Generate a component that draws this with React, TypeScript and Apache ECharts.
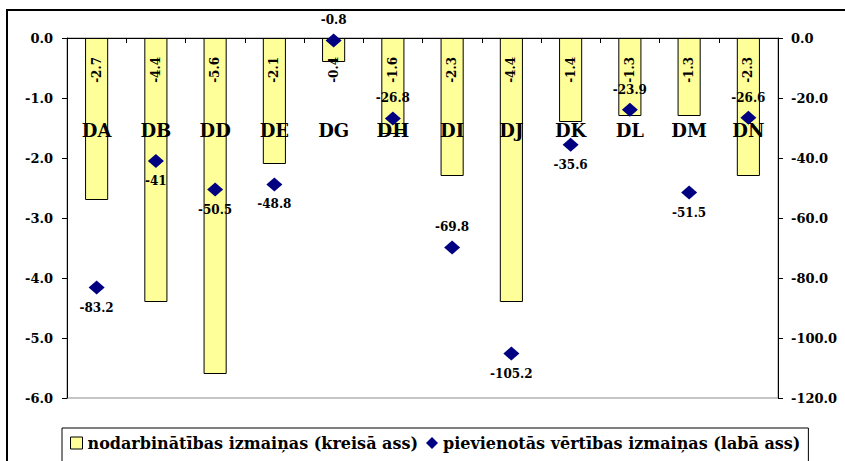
import React, { useEffect, useRef } from "react";
import * as echarts from "echarts";

const categories = ["DA", "DB", "DD", "DE", "DG", "DH", "DI", "DJ", "DK", "DL", "DM", "DN"];
const employmentChange = [-2.7, -4.4, -5.6, -2.1, -0.4, -1.6, -2.3, -4.4, -1.4, -1.3, -1.3, -2.3];
const valueAddedChange = [-83.2, -41, -50.5, -48.8, -0.8, -26.8, -69.8, -105.2, -35.6, -23.9, -51.5, -26.6];
const valueLabelSide = ["bottom", "bottom", "bottom", "bottom", "top", "top", "top", "bottom", "bottom", "top", "bottom", "top"];
const seriesNames = ["nodarbinātības izmaiņas (kreisā ass)", "pievienotās vērtības izmaiņas (labā ass)"];

const FONT = "DejaVu Serif";

export default function App() {
  const ref = useRef<HTMLDivElement>(null);
  useEffect(() => {
    if (!ref.current) return;
    const chart = echarts.init(ref.current, undefined, { renderer: "svg" });
    chart.setOption({
      animation: false,
      backgroundColor: "#fff",
      textStyle: { fontFamily: FONT },
      grid: {
        left: 67,
        right: 67,
        top: 38,
        bottom: 63,
        show: true,
        borderColor: "#8c8c8c",
        borderWidth: 1,
      },
      graphic: [
        {
          type: "rect",
          shape: { x: 7, y: 10, width: 900, height: 520 },
          style: { fill: "none", stroke: "#000", lineWidth: 2 },
          silent: true,
          z: -1,
        },
      ],
      legend: {
        left: 62,
        top: 428,
        padding: [7, 8, 24, 8],
        borderColor: "#000",
        borderWidth: 1,
        itemWidth: 12,
        itemHeight: 12,
        itemGap: 8,
        textStyle: { fontFamily: FONT, fontWeight: "bold", fontSize: 16, color: "#000" },
        data: [
          { name: seriesNames[0], icon: "rect", itemStyle: { color: "#FFFF99", borderColor: "#000", borderWidth: 1 } },
          { name: seriesNames[1], icon: "diamond", itemStyle: { color: "#000080" } },
        ],
      },
      xAxis: {
        type: "category",
        position: "top",
        data: categories,
        z: 5,
        axisLine: { show: true, lineStyle: { color: "#000", width: 1 } },
        axisTick: { show: true, inside: true, length: 5, lineStyle: { color: "#000" } },
        axisLabel: {
          margin: -101,
          fontFamily: FONT,
          fontWeight: "bold",
          fontSize: 18,
          color: "#000",
        },
        splitLine: { show: false },
      },
      yAxis: [
        {
          type: "value",
          min: -6,
          max: 0,
          interval: 1,
          position: "left",
          axisLine: { show: true, lineStyle: { color: "#000", width: 1 } },
          axisTick: { show: true, length: 5, lineStyle: { color: "#000" } },
          axisLabel: {
            margin: 14,
            fontFamily: FONT,
            fontWeight: "bold",
            fontSize: 13,
            color: "#000",
            formatter: (v: number) => v.toFixed(1),
          },
          splitLine: { show: false },
        },
        {
          type: "value",
          min: -120,
          max: 0,
          interval: 20,
          position: "right",
          axisLine: { show: true, lineStyle: { color: "#000", width: 1 } },
          axisTick: { show: true, length: 5, lineStyle: { color: "#000" } },
          axisLabel: {
            margin: 13,
            fontFamily: FONT,
            fontWeight: "bold",
            fontSize: 13,
            color: "#000",
            formatter: (v: number) => v.toFixed(1),
          },
          splitLine: { show: false },
        },
      ],
      series: [
        {
          name: seriesNames[0],
          type: "bar",
          yAxisIndex: 0,
          data: employmentChange,
          barWidth: "39%",
          itemStyle: { color: "#FFFF99", borderColor: "#000", borderWidth: 1 },
          label: {
            show: true,
            position: "insideTop",
            distance: 19,
            rotate: 90,
            align: "right",
            verticalAlign: "middle",
            fontFamily: FONT,
            fontWeight: "bold",
            fontSize: 12,
            color: "#000",
            formatter: (p: any) => p.value.toFixed(1),
          },
          z: 2,
        },
        {
          name: seriesNames[1],
          type: "scatter",
          yAxisIndex: 1,
          symbol: "diamond",
          symbolSize: [16, 14],
          itemStyle: { color: "#000080", opacity: 1 },
          z: 6,
          data: valueAddedChange.map((v, i) => ({
            value: v,
            label: { position: valueLabelSide[i] },
          })),
          label: {
            show: true,
            distance: 7,
            fontFamily: FONT,
            fontWeight: "bold",
            fontSize: 12,
            color: "#000",
            formatter: (p: any) => String(p.value),
          },
        },
      ],
    });
    return () => chart.dispose();
  }, []);
  return (
    <div
      ref={ref}
      style={{ position: "fixed", left: 0, top: 0, width: 845, height: 461 }}
    />
  );
}
